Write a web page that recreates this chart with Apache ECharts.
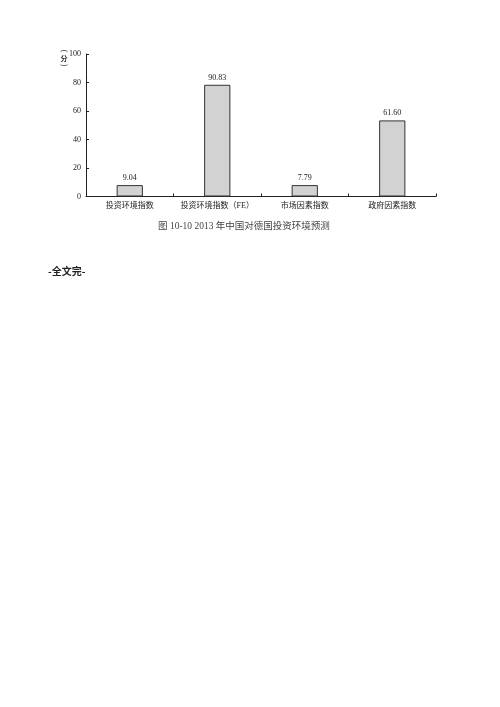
<!DOCTYPE html>
<html>
<head>
<meta charset="utf-8">
<script src="https://cdn.jsdelivr.net/npm/echarts@6/dist/echarts.min.js"></script>
<style>
html,body{margin:0;padding:0;background:#fff;}
#main{width:500px;height:707px;}
</style>
</head>
<body>
<div id="main"></div>
<script>
// categories and values (bar heights, labels as printed)
let categories=["投资环境指数","投资环境指数（FE）","市场因素指数","政府因素指数"]
let barValues=[8.0,78.4,8.0,53.4]
let labelTexts=["9.04","90.83","7.79","61.60"]
let yTicks=[0,20,40,60,80,100]

let serif='"Liberation Serif","DejaVu Serif","Noto Sans CJK SC",serif'
let cjk='"Noto Sans CJK SC"'
let chart=echarts.init(document.getElementById('main'))
chart.setOption({
    backgroundColor:'#fff',
    animation:false,
    grid:{left:86,top:54,width:350,height:142.5,containLabel:false},
    xAxis:{
        type:'category',
        data:categories,
        axisLine:{lineStyle:{color:'#222',width:1}},
        axisTick:{show:true,inside:true,length:3,lineStyle:{color:'#222'}},
        axisLabel:{color:'#222',fontSize:8,fontFamily:serif,margin:5,interval:0}
    },
    yAxis:{
        type:'value',
        min:yTicks[0],
        max:yTicks[yTicks.length-1],
        interval:20,
        splitLine:{show:false},
        axisLine:{show:true,lineStyle:{color:'#222',width:1}},
        axisTick:{show:true,inside:true,length:3,lineStyle:{color:'#222'}},
        axisLabel:{color:'#222',fontSize:8,fontFamily:serif,margin:5}
    },
    series:[{
        type:'bar',
        data:barValues,
        barWidth:'30%',
        itemStyle:{color:'#d2d2d2',borderColor:'#333',borderWidth:1},
        label:{
            show:true,
            position:'top',
            distance:3,
            color:'#222',
            fontSize:8,
            fontFamily:serif,
            formatter:function(p){return labelTexts[p.dataIndex]}
        }
    }],
    graphic:[
        // y unit: （分） written top to bottom
        {type:'text',x:64,y:51,rotation:-Math.PI/2,style:{text:'(',fill:'#333',font:'8px "Liberation Serif"',align:'center',verticalAlign:'middle'}},
        {type:'text',x:64,y:58,style:{text:'分',fill:'#333',font:'bold 7px '+cjk,align:'center',verticalAlign:'middle'}},
        {type:'text',x:64,y:65,rotation:-Math.PI/2,style:{text:')',fill:'#333',font:'8px "Liberation Serif"',align:'center',verticalAlign:'middle'}},
        {type:'text',left:158,top:222,style:{text:'图 10-10 2013 年中国对德国投资环境预测',fill:'#444',font:'9.5px "Liberation Serif","Noto Sans CJK SC"'}},
        {type:'text',left:48,top:266,style:{text:'-全文完-',fill:'#222',font:'bold 10px '+cjk}}
    ]
})
</script>
</body>
</html>
